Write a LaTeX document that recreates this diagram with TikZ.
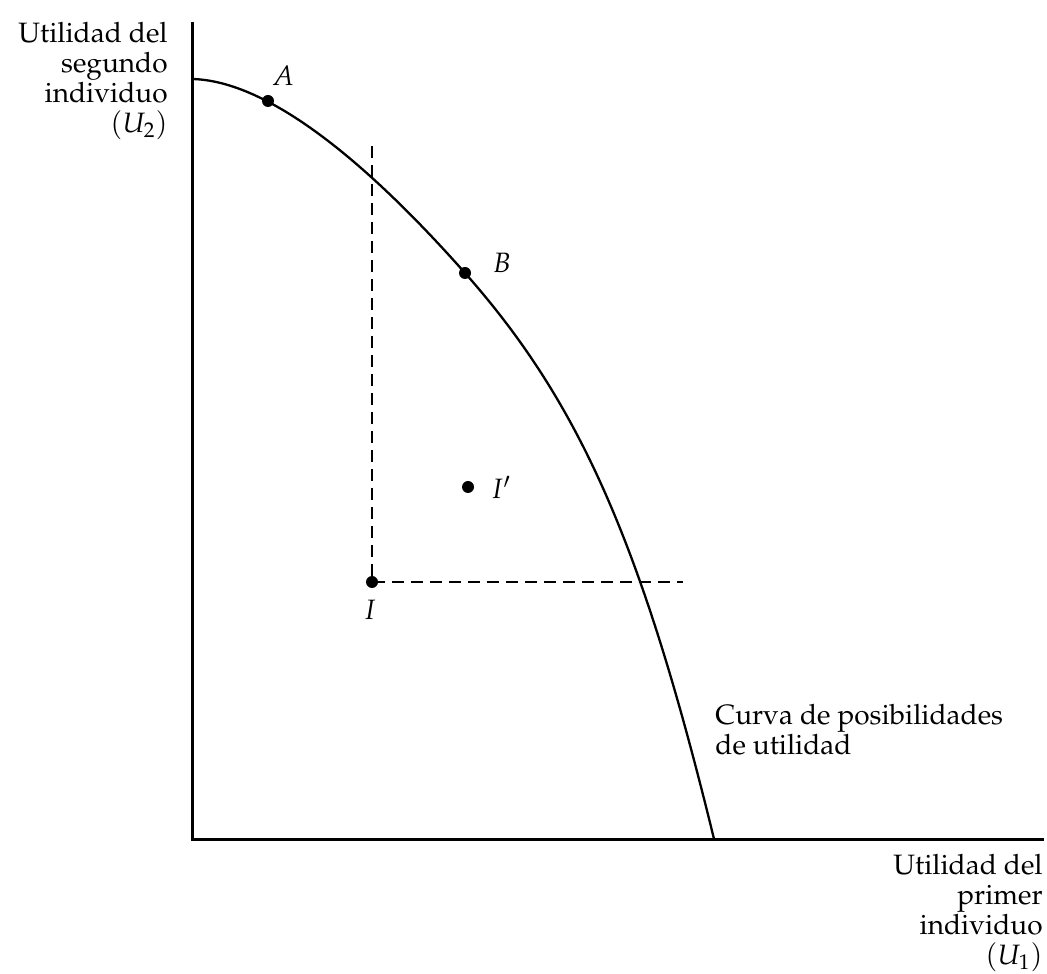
\documentclass[tikz,border=0pt]{standalone}
\usepackage[T1]{fontenc}
\usepackage{amsmath, amssymb}
\usepackage{mathpazo}
\usepackage{tikz}
\usepackage{xcolor}

\tikzset{
  dot/.style={circle, fill=black, inner sep=0pt, minimum size=6pt},
  axislabel/.style={align=right, inner sep=0pt},
  guide/.style={line width=1.3pt, dash pattern=on 6pt off 3.5pt},
}

\begin{document}
\begin{tikzpicture}[x=0.5pt, y=0.5pt, every node/.style={font=\fontsize{14}{15}\selectfont}]
  \useasboundingbox (-192,-134) rectangle (855,839);
  % Ejes
  \coordinate (O) at (0,0);
  \coordinate (ytop) at (0,817);
  \coordinate (xend) at (852,0);
  \draw[line width=1.5pt] (ytop) -- (O) -- (xend);
  \node[axislabel, anchor=north east] (u2) at (-24,817) {Utilidad del\\segundo\\individuo\\$(U_2)$};
  \node[axislabel, anchor=north east] (u1) at (851,-15) {Utilidad del\\primer\\individuo\\$(U_1)$};
  % Curva de posibilidades
  \coordinate (c0) at (0,760);
  \coordinate (c1) at (273,566);
  \coordinate (c2) at (522,0);
  \draw[line width=1.15pt] (c0) .. controls (90,758) and (203,645) .. (c1)
                               .. controls (388,436) and (450,295) .. (c2);
  \node[align=left, inner sep=0pt, anchor=north west] (curva) at (523,135) {Curva de posibilidades\\de utilidad};
  % Puntos
  \node[dot] (a) at (76,738) {};
  \node (la) at (91,763) {$A$};
  \node[dot] (b) at (c1) {};
  \node (lb) at (310,576) {$B$};
  \node[dot] (ip) at (276,352) {};
  \node (lip) at (309,352) {$I'$};
  \node[dot] (i) at (180,257) {};
  \node (li) at (178,229) {$I$};
  % Lineas de referencia
  \coordinate (vtop) at (180,693);
  \coordinate (hend) at (491,257);
  \draw[guide] (vtop) -- (i.center) -- (hend);
\end{tikzpicture}
\end{document}
